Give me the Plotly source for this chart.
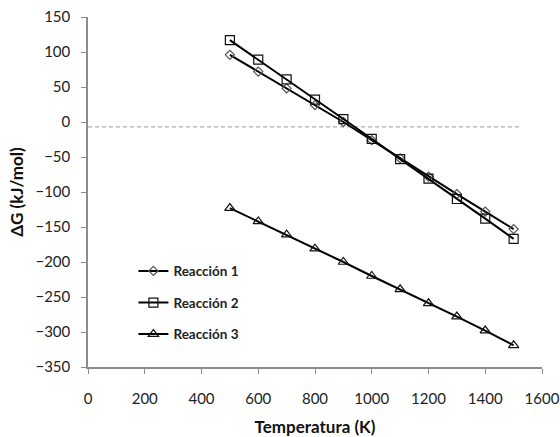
import plotly.graph_objects as go

temps = [500, 600, 700, 800, 900, 1000, 1100, 1200, 1300, 1400, 1500]
reaccion1 = [96, 72, 48, 24, 0, -26, -52, -78, -103, -128, -153]
reaccion2 = [117, 89, 61, 32, 4, -24, -53, -81, -110, -138, -167]
reaccion3 = [-123, -142, -161, -181, -200, -220, -239, -259, -278, -298, -319]
ref_line_x = [0, 1530]
ref_line_y = [-7, -7]
series_names = ["Reacción 1", "Reacción 2", "Reacción 3"]

FONT = "Lato"

fig = go.Figure()
fig.add_trace(go.Scatter(x=ref_line_x, y=ref_line_y, mode="lines",
                         line=dict(color="#9a9a9a", width=1, dash="4px,3px"),
                         showlegend=False, hoverinfo="skip"))
specs = [(reaccion1, "diamond-open", 7, "#555555"),
         (reaccion2, "square-open", 9, "#111111"),
         (reaccion3, "triangle-up-open", 9, "#111111")]
for i, (vals, sym, sz, mc) in enumerate(specs):
    fig.add_trace(go.Scatter(
        x=temps, y=vals, mode="lines+markers", name=series_names[i],
        legendgroup=f"g{i}",
        line=dict(color="black", width=2),
        marker=dict(symbol=sym, size=sz, color=mc, line=dict(width=1.2, color=mc)),
    ))

fig.update_layout(
    width=560, height=437,
    margin=dict(l=88, r=18, t=17, b=70),
    paper_bgcolor="white", plot_bgcolor="white",
    font=dict(family=FONT, size=15, color="#222222"),
    showlegend=True,
    legend=dict(x=0.10, y=0.318, xanchor="left", yanchor="top",
                font=dict(family=FONT, size=13.5, color="#222222", weight="bold"),
                tracegroupgap=11, bgcolor="rgba(0,0,0,0)", itemwidth=30),
)
fig.update_xaxes(
    range=[0, 1600], tickvals=[0, 200, 400, 600, 800, 1000, 1200, 1400, 1600],
    showgrid=False, zeroline=False, showline=True, linecolor="#8c8c8c", linewidth=1.5,
    ticks="outside", ticklen=5, tickcolor="#8c8c8c", ticklabelstandoff=12,
    tickfont=dict(size=15, color="#222222"), automargin=False,
    title=dict(text="Temperatura (K)", font=dict(size=17, weight="bold", color="#111111"), standoff=17),
)
fig.update_yaxes(
    range=[-350, 150], tickvals=[-350, -300, -250, -200, -150, -100, -50, 0, 50, 100, 150],
    showgrid=False, zeroline=False, showline=True, linecolor="#8c8c8c", linewidth=1.5,
    ticks="outside", ticklen=5, tickcolor="#8c8c8c", ticklabelstandoff=8,
    tickfont=dict(size=15, color="#222222"), automargin=False,
    title=dict(text="ΔG (kJ/mol)", font=dict(size=17, weight="bold", color="#111111"), standoff=7),
)
fig.write_html("out.html", config={"displayModeBar": False},
               post_script="document.body.style.margin='0';document.body.style.overflow='hidden';")
